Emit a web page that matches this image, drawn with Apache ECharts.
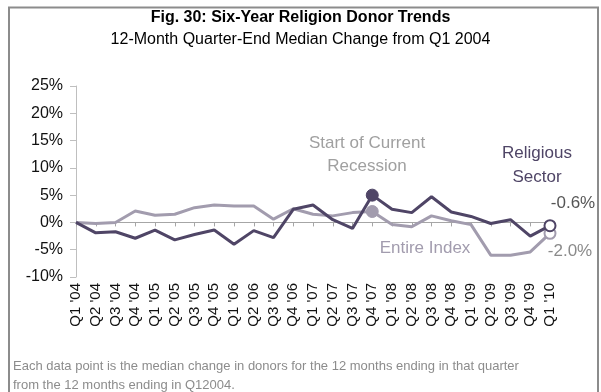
<!DOCTYPE html>
<html>
<head>
<meta charset="utf-8">
<script src="https://cdn.jsdelivr.net/npm/echarts@6/dist/echarts.min.js"></script>
<style>
  html, body { margin: 0; padding: 0; background: #ffffff; }
  #chart { width: 601px; height: 392px; }
</style>
</head>
<body>
<div id="chart"></div>
<script>
// Quarter-end labels, Q1 2004 through Q1 2010
const quarters = [
  "Q1 '04", "Q2 '04", "Q3 '04", "Q4 '04",
  "Q1 '05", "Q2 '05", "Q3 '05", "Q4 '05",
  "Q1 '06", "Q2 '06", "Q3 '06", "Q4 '06",
  "Q1 '07", "Q2 '07", "Q3 '07", "Q4 '07",
  "Q1 '08", "Q2 '08", "Q3 '08", "Q4 '08",
  "Q1 '09", "Q2 '09", "Q3 '09", "Q4 '09",
  "Q1 '10"
];

// 12-month median change in donors (%) from Q1 2004
const religiousSector = [
  0, -1.9, -1.7, -2.9, -1.4, -3.2, -2.2, -1.4, -4.0, -1.5, -2.8, 2.4,
  3.2, 0.5, -1.1, 5.0, 2.4, 1.8, 4.7, 1.9, 1.1, -0.2, 0.5, -2.5, -0.6
];
const entireIndex = [
  0, -0.2, 0.0, 2.1, 1.3, 1.5, 2.7, 3.2, 3.0, 3.0, 0.6, 2.5,
  1.5, 1.2, 1.8, 2.0, -0.4, -0.8, 1.2, 0.3, -0.4, -6.0, -6.0, -5.4, -2.0
];

// Value axis ticks (%)
const yTicks = [-10, -5, 0, 5, 10, 15, 20, 25];

// Quarter marking the start of the current recession (Q4 '07)
const recessionIndex = 15;

const DARK = '#4f4566';
const LIGHT = '#a29cae';
const FONT = '"Liberation Sans", Arial, sans-serif';

function buildData(values, color, endLabel) {
  const last = values.length - 1;
  return values.map(function (v, i) {
    if (i === recessionIndex) {
      return { value: v, symbol: 'circle', symbolSize: 12,
               itemStyle: { color: color, borderColor: color } };
    }
    if (i === last) {
      return { value: v, symbol: 'circle', symbolSize: 11,
               itemStyle: { color: '#ffffff', borderColor: color, borderWidth: 2 },
               label: endLabel };
    }
    return v;
  });
}

const chart = echarts.init(document.getElementById('chart'), null, { renderer: 'canvas' });

chart.setOption({
  animation: false,
  backgroundColor: '#ffffff',
  grid: { left: 76, right: 51, top: 86, bottom: 115 },
  xAxis: [
    {
      type: 'category',
      data: quarters,
      boundaryGap: false,
      axisLine: { show: false, onZero: false },
      axisTick: { show: false },
      axisLabel: {
        interval: 0, rotate: 90, margin: 6,
        fontFamily: FONT, fontSize: 15, color: '#111111'
      }
    },
    {
      type: 'category',
      data: quarters,
      boundaryGap: false,
      position: 'bottom',
      axisLine: { show: true, onZero: true, lineStyle: { color: '#a6a6a6', width: 1 } },
      axisTick: { show: true, interval: 0, length: 4, lineStyle: { color: '#a6a6a6' } },
      axisLabel: { show: false }
    }
  ],
  yAxis: {
    type: 'value',
    min: yTicks[0],
    max: yTicks[yTicks.length - 1],
    interval: 5,
    splitLine: { show: false },
    axisLine: { show: true, lineStyle: { color: '#bfbfbf', width: 1 } },
    axisTick: { show: true, length: 6, lineStyle: { color: '#bfbfbf' } },
    axisLabel: {
      margin: 13, fontFamily: FONT, fontSize: 16, color: '#111111',
      formatter: function (v) { return v + '%'; }
    }
  },
  series: [
    {
      name: 'Entire Index',
      type: 'line',
      xAxisIndex: 0,
      symbol: 'none',
      z: 2,
      lineStyle: { color: LIGHT, width: 3 },
      itemStyle: { color: LIGHT },
      data: buildData(entireIndex, LIGHT, {
        show: true, position: 'bottom', distance: 0, offset: [20, 3],
        fontFamily: FONT, fontSize: 17, color: '#8a8a8a',
        formatter: function (p) { return p.value.toFixed(1) + '%'; }
      })
    },
    {
      name: 'Religious Sector',
      type: 'line',
      xAxisIndex: 0,
      symbol: 'none',
      z: 3,
      lineStyle: { color: DARK, width: 3 },
      itemStyle: { color: DARK },
      data: buildData(religiousSector, DARK, {
        show: true, position: 'top', distance: 0, offset: [23, -7],
        fontFamily: FONT, fontSize: 17, color: '#555555',
        formatter: function (p) { return p.value.toFixed(1) + '%'; }
      })
    }
  ],
  graphic: [
    {
      type: 'rect', silent: true, z: -1,
      shape: { x: 9, y: 7.5, width: 589, height: 400 },
      style: { fill: 'none', stroke: '#8c8c8c', lineWidth: 2 }
    },
    {
      type: 'text', left: 'center', top: 10,
      style: { text: 'Fig. 30: Six-Year Religion Donor Trends',
               font: 'bold 16px ' + FONT, fill: '#000000' }
    },
    {
      type: 'text', left: 'center', top: 32,
      style: { text: '12-Month Quarter-End Median Change from Q1 2004',
               font: '16px ' + FONT, fill: '#000000' }
    },
    {
      type: 'text', x: 367, y: 155,
      style: { text: 'Start of Current\nRecession', font: '17px ' + FONT,
               lineHeight: 23, fill: '#a0a0a0', align: 'center', verticalAlign: 'middle' }
    },
    {
      type: 'text', x: 537, y: 165,
      style: { text: 'Religious\nSector', font: '17px ' + FONT,
               lineHeight: 24, fill: DARK, align: 'center', verticalAlign: 'middle' }
    },
    {
      type: 'text', x: 425, y: 248,
      style: { text: 'Entire Index', font: '17px ' + FONT,
               fill: LIGHT, align: 'center', verticalAlign: 'middle' }
    },
    {
      type: 'text', x: 13, y: 366,
      style: { text: 'Each data point is the median change in donors for the 12 months ending in that quarter',
               font: '13px ' + FONT, fill: '#8c8c8c', align: 'left', verticalAlign: 'middle' }
    },
    {
      type: 'text', x: 13, y: 385,
      style: { text: 'from the 12 months ending in Q12004.',
               font: '13px ' + FONT, fill: '#8c8c8c', align: 'left', verticalAlign: 'middle' }
    }
  ]
});
</script>
</body>
</html>
